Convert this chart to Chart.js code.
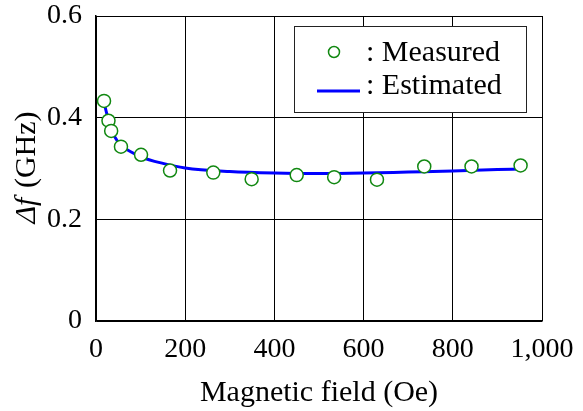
<!DOCTYPE html>
<html>
<head>
<meta charset="utf-8">
<script src="https://cdn.jsdelivr.net/npm/chart.js@4/dist/chart.umd.min.js"></script>
<style>
  html, body { margin: 0; padding: 0; background: #fff; }
  #wrap { width: 583px; height: 411px; }
</style>
</head>
<body>
<div id="wrap"><canvas id="chart" width="583" height="411"></canvas></div>
<script>
// Data
const fieldMeasured = [18, 28, 34, 56, 101, 166, 263, 349, 450, 534, 630, 736, 842, 952];
const dfMeasured = [0.433, 0.394, 0.374, 0.343, 0.327, 0.296, 0.292, 0.279, 0.287, 0.283, 0.278, 0.304, 0.304, 0.306];
const fieldEstimated = [18, 25, 30, 40, 60, 80, 100, 150, 200, 300, 400, 500, 600, 700, 800, 900, 950];
const dfEstimated = [0.43, 0.405, 0.39, 0.365, 0.343, 0.332, 0.323, 0.31, 0.301, 0.294, 0.291, 0.29, 0.291, 0.293, 0.295, 0.298, 0.299];
const legendLabels = [": Measured", ": Estimated"];

const SERIF = "'Liberation Serif', 'Times New Roman', serif";
const GREEN = "#118811";
const BLUE = "#0000ff";

function toPoints(xs, ys) {
  return xs.map((x, i) => ({ x: x, y: ys[i] }));
}

// y-axis title with italic "Δf" and legend box
const extras = {
  id: "extras",
  afterDraw(chart) {
    const ctx = chart.ctx;
    const area = chart.chartArea;

    // y title
    ctx.save();
    ctx.translate(27, (area.top + area.bottom) / 2);
    ctx.rotate(-Math.PI / 2);
    ctx.fillStyle = "#000";
    ctx.textBaseline = "middle";
    ctx.font = "italic 30px " + SERIF;
    const part1 = "\u0394f";
    const w1 = ctx.measureText(part1).width;
    ctx.font = "30px " + SERIF;
    const part2 = " (GHz)";
    const w2 = ctx.measureText(part2).width;
    let x0 = -(w1 + w2) / 2;
    ctx.font = "italic 30px " + SERIF;
    ctx.textAlign = "left";
    ctx.fillText(part1, x0, 0);
    ctx.font = "30px " + SERIF;
    ctx.fillText(part2, x0 + w1 + 2, 0);
    ctx.restore();

    // legend
    ctx.save();
    ctx.fillStyle = "#fff";
    ctx.fillRect(294, 26, 232, 86);
    ctx.strokeStyle = "#222";
    ctx.lineWidth = 1;
    ctx.strokeRect(294.5, 26.5, 232, 86);

    ctx.beginPath();
    ctx.arc(334, 52, 5.5, 0, Math.PI * 2);
    ctx.strokeStyle = GREEN;
    ctx.lineWidth = 1.5;
    ctx.stroke();

    ctx.beginPath();
    ctx.moveTo(317, 91);
    ctx.lineTo(360, 91);
    ctx.strokeStyle = BLUE;
    ctx.lineWidth = 3;
    ctx.stroke();

    ctx.fillStyle = "#000";
    ctx.font = "30px " + SERIF;
    ctx.textAlign = "left";
    ctx.textBaseline = "middle";
    ctx.fillText(legendLabels[0], 366, 53);
    ctx.fillText(legendLabels[1], 366, 86);
    ctx.restore();
  }
};

new Chart(document.getElementById("chart"), {
  type: "scatter",
  data: {
    datasets: [
      {
        label: "Measured",
        data: toPoints(fieldMeasured, dfMeasured),
        pointStyle: "circle",
        pointRadius: 6.5,
        pointBorderWidth: 1.5,
        borderColor: GREEN,
        backgroundColor: "#fff",
        showLine: false,
        order: 1,
      },
      {
        label: "Estimated",
        data: toPoints(fieldEstimated, dfEstimated),
        showLine: true,
        borderColor: BLUE,
        borderWidth: 3,
        pointRadius: 0,
        cubicInterpolationMode: "monotone",
        order: 2,
      },
    ],
  },
  options: {
    responsive: false,
    animation: false,
    layout: {
      padding: { left: 0, top: 16, right: 41, bottom: 0 },
    },
    plugins: {
      legend: { display: false },
      tooltip: { enabled: false },
    },
    scales: {
      x: {
        type: "linear",
        min: 0,
        max: 1000,
        afterFit: (s) => {
          s.height = 90;
          s.paddingLeft = 0;
          s.paddingRight = 0;
        },
        ticks: {
          stepSize: 200,
          color: "#000",
          padding: 12,
          maxRotation: 0,
          font: { family: SERIF, size: 28 },
          callback: (v) => v.toLocaleString("en-US"),
        },
        grid: { color: "#000", lineWidth: 1, drawTicks: false },
        border: { color: "#000", width: 1.5 },
        title: {
          display: true,
          text: "Magnetic field (Oe)",
          color: "#000",
          font: { family: SERIF, size: 30 },
          padding: { top: 0, bottom: 0 },
        },
      },
      y: {
        type: "linear",
        min: 0,
        max: 0.6,
        afterFit: (s) => {
          s.width = 96;
          s.paddingTop = 0;
          s.paddingBottom = 0;
        },
        ticks: {
          stepSize: 0.2,
          color: "#000",
          padding: 14,
          font: { family: SERIF, size: 28 },
          callback: (v) => (v === 0 ? "0" : v.toFixed(1)),
        },
        grid: { color: "#000", lineWidth: 1, drawTicks: false },
        border: { color: "#000", width: 1.5 },
      },
    },
  },
  plugins: [extras],
});
</script>
</body>
</html>
